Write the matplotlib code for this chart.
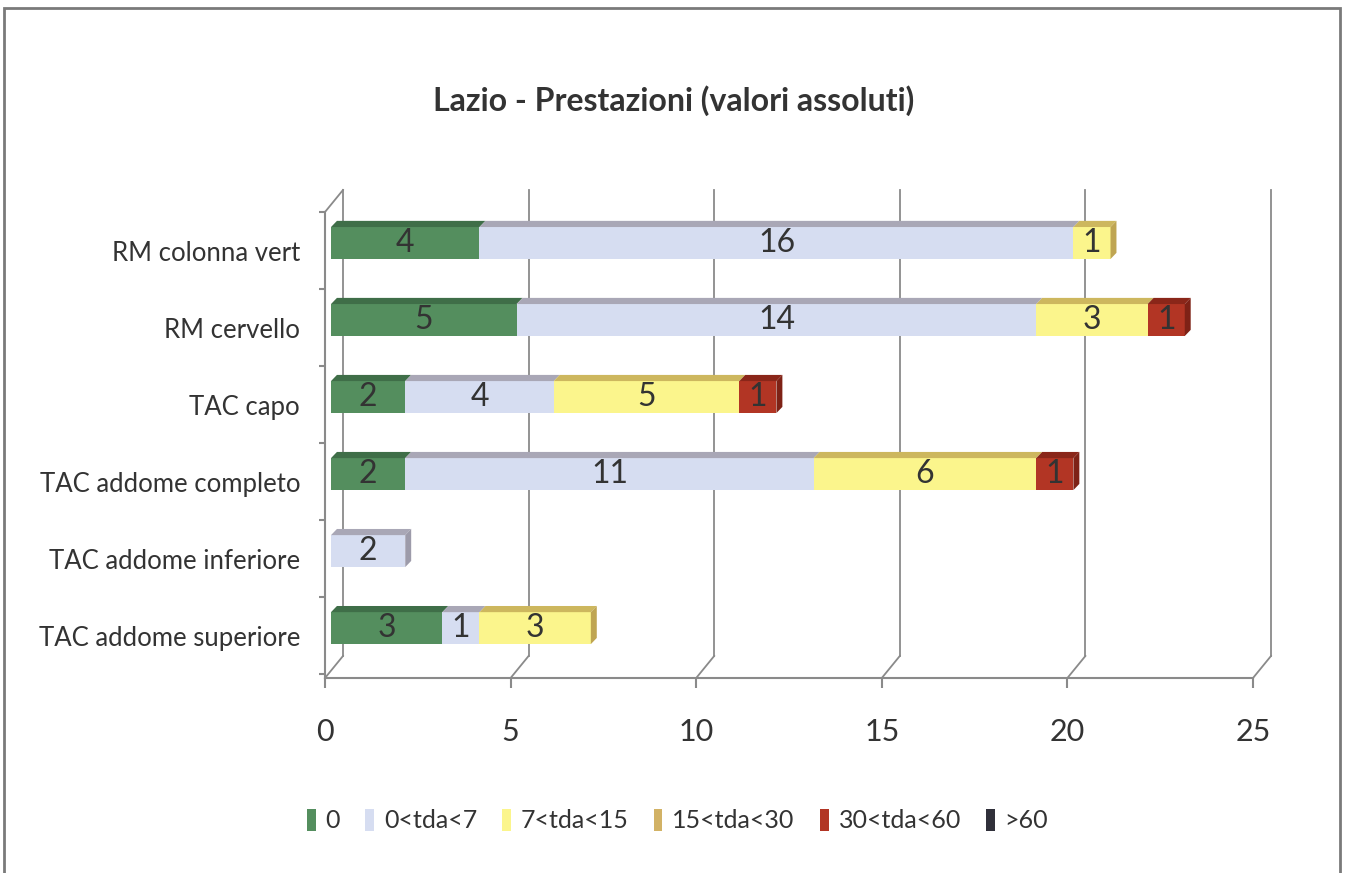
import matplotlib
matplotlib.use("Agg")
import matplotlib.pyplot as plt
import matplotlib.transforms as mtransforms
from matplotlib.patches import Polygon, Patch, Rectangle
import numpy as np

plt.rcParams['font.family'] = ['Lato', 'DejaVu Sans']

CATEGORIES = ["RM colonna vert", "RM cervello", "TAC capo",
              "TAC addome completo", "TAC addome inferiore", "TAC addome superiore"]
SERIES = ["0", "0<tda<7", "7<tda<15", "15<tda<30", "30<tda<60", ">60"]
V_0 = [4, 5, 2, 2, 0, 3]
V_0_7 = [16, 14, 4, 11, 2, 1]
V_7_15 = [1, 3, 5, 6, 0, 3]
V_15_30 = [0, 0, 0, 0, 0, 0]
V_30_60 = [0, 1, 1, 1, 0, 0]
V_60 = [0, 0, 0, 0, 0, 0]
X_TICKS = [0, 5, 10, 15, 20, 25]

FRONT = ["#548E5E", "#D6DDF1", "#FBF58C", "#D2B265", "#B23524", "#30303A"]
TOP = ["#3F6E48", "#A9A7B6", "#CDB75E", "#A88C45", "#8A2619", "#1E1E26"]
SIDE = ["#3A6442", "#9D9BAA", "#BFA552", "#9A803C", "#7E2216", "#1A1A22"]
GRID = "#8A8A8A"
TEXT = "#333333"

values = np.array([V_0, V_0_7, V_7_15, V_15_30, V_30_60, V_60], dtype=float)

fig = plt.figure(figsize=(13.47, 8.73), dpi=100)
ax = fig.add_axes([325 / 1347, 1 - 678 / 873, 928 / 1347, 466 / 873])

ax.set_xlim(0, 25)
ax.set_ylim(5.55, -0.5)

# back wall gridlines (3d look), offset from front plane
gdx, gdy = 0.485, 0.286
for t in X_TICKS:
    ax.plot([t + gdx, t + gdx], [-0.5 - gdy, 5.55 - gdy], color=GRID, lw=1.3, clip_on=False, zorder=1)
    ax.plot([t, t + gdx], [5.55, 5.55 - gdy], color=GRID, lw=1.3, clip_on=False, zorder=1)
ax.plot([0, gdx], [-0.5, -0.5 - gdy], color=GRID, lw=1.3, clip_on=False, zorder=1)

# bars, slightly shifted into depth
bar_tr = mtransforms.offset_copy(ax.transData, fig=fig, x=6, y=7.5, units='dots')
h = 0.415
ddx, ddy = 0.16, 0.08
y = np.arange(len(CATEGORIES))
lefts = np.zeros(len(CATEGORIES))
for i, name in enumerate(SERIES):
    w = values[i]
    for j in range(len(CATEGORIES)):
        if w[j] <= 0:
            continue
        l, r = lefts[j], lefts[j] + w[j]
        top = y[j] - h / 2
        ax.add_patch(Rectangle((l, top), w[j], h, facecolor=FRONT[i], edgecolor='none',
                               transform=bar_tr, zorder=3))
        ax.add_patch(Polygon([(l, top), (r, top), (r + ddx, top - ddy), (l + ddx, top - ddy)],
                             closed=True, facecolor=TOP[i], edgecolor='none',
                             transform=bar_tr, zorder=3))
        if values[i + 1:, j].sum() == 0:
            ax.add_patch(Polygon([(r, top), (r + ddx, top - ddy), (r + ddx, top + h - ddy), (r, top + h)],
                                 closed=True, facecolor=SIDE[i], edgecolor='none',
                                 transform=bar_tr, zorder=3))
        ax.text((l + r) / 2, y[j], f"{int(w[j])}", ha='center', va='center',
                fontsize=23, color=TEXT, transform=bar_tr, zorder=4)
    lefts += w

# axes styling
for s in ['top', 'right']:
    ax.spines[s].set_visible(False)
for s in ['left', 'bottom']:
    ax.spines[s].set_color(GRID)
    ax.spines[s].set_linewidth(1.5)

ax.set_xticks(X_TICKS)
ax.set_xticklabels([str(t) for t in X_TICKS], fontsize=22, color=TEXT)
ax.tick_params(axis='x', direction='out', length=7, width=1.5, color=GRID, pad=22)

ax.set_yticks(np.arange(-0.5, 6, 1.0))
ax.set_yticklabels([])
ax.tick_params(axis='y', which='major', direction='out', length=4, width=1.5, color=GRID)
ax.set_yticks(y, minor=True)
ax.set_yticklabels(CATEGORIES, minor=True, fontsize=18.5, color=TEXT)
ax.tick_params(axis='y', which='minor', length=0, pad=18)

fig.text(0.5, 0.885, "Lazio - Prestazioni (valori assoluti)", ha='center', va='center',
         fontsize=23, fontweight='bold', color="#333333")

handles = [Patch(facecolor=c, edgecolor='none') for c in FRONT]
fig.legend(handles, SERIES, loc='center', bbox_to_anchor=(0.503, 0.06), ncol=6, frameon=False,
           fontsize=18, handlelength=0.35, handleheight=1.0, handletextpad=0.4, columnspacing=1.0,
           labelcolor=TEXT)

fig.add_artist(Rectangle((4 / 1347, -0.01), 1336 / 1347, 1 - 8 / 873 + 0.01, transform=fig.transFigure,
                         fill=False, edgecolor="#7A7A7A", lw=2))

fig.savefig("out.png", dpi=100)
